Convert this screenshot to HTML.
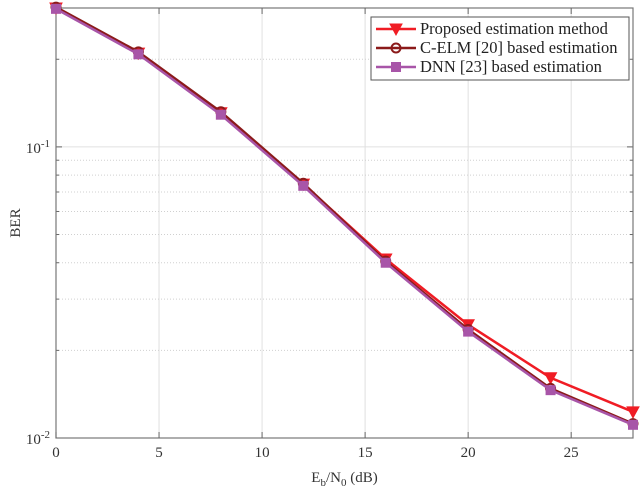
<!DOCTYPE html>
<html><head><meta charset="utf-8"><style>
body{margin:0;background:#fff;}
svg{display:block;font-family:"Liberation Serif",serif;}
</style></head><body>
<svg id="chart" width="640" height="489" viewBox="0 0 640 489">
<g id="grid"></g><g id="axes"></g><g id="series"></g><g id="legend"></g>
</svg>
<script>
const xValues=[0,4,8,12,16,20,24,28];
const proposed=[0.300,0.210,0.131,0.0745,0.0412,0.0245,0.0161,0.0123];
const celm=[0.302,0.212,0.132,0.0750,0.0405,0.0236,0.0148,0.0112];
const dnn=[0.298,0.208,0.129,0.0735,0.0400,0.0232,0.0146,0.0111];
const xTicks=[0,5,10,15,20,25];
const seriesNames=["Proposed estimation method","C-ELM [20] based estimation","DNN [23] based estimation"];
const L=56,R=633,T=8,B=438,xmin=0,xmax=28,ymin=0.01,ymax=0.3;
const NS="http://www.w3.org/2000/svg";
function X(v){return L+(v-xmin)/(xmax-xmin)*(R-L);}
function Y(v){return B-(Math.log10(v)-Math.log10(ymin))/(Math.log10(ymax)-Math.log10(ymin))*(B-T);}
function mk(tag,attrs,parent,text){const e=document.createElementNS(NS,tag);for(const k in attrs)e.setAttribute(k,attrs[k]);if(text!==undefined)e.textContent=text;parent.appendChild(e);return e;}
const grid=document.getElementById('grid'),axes=document.getElementById('axes'),ser=document.getElementById('series'),leg=document.getElementById('legend');
xTicks.forEach(t=>{if(t>0){const g=mk('line',{x1:X(t),x2:X(t),y1:T,y2:B,stroke:'#e0e0e0','stroke-width':1},grid);}});
for(let d=-2;d<=-1;d++){for(let m=1;m<=9;m++){const v=m*Math.pow(10,d);if(v<ymin||v>ymax)continue;const y=Y(v);
 const g=mk('line',{x1:L,x2:R,y1:y,y2:y,stroke:m===1?'#e0e0e0':'#d0d0d0','stroke-width':1,'stroke-dasharray':m===1?'':'1,2'},grid);
 const tl=mk('line',{x1:L,x2:L+(m===1?6:3),y1:y,y2:y,stroke:'#666'},axes);
 const tr=mk('line',{x1:R,x2:R-(m===1?6:3),y1:y,y2:y,stroke:'#666'},axes);}}
const box=mk('rect',{x:L,y:T,width:R-L,height:B-T,fill:'none',stroke:'#777','stroke-width':1.2},axes);

xTicks.forEach(t=>{mk('line',{x1:X(t),x2:X(t),y1:B,y2:B-6,stroke:'#666'},axes);mk('line',{x1:X(t),x2:X(t),y1:T,y2:T+6,stroke:'#666'},axes);
 const lb=mk('text',{x:X(t),y:B+19,'text-anchor':'middle','font-size':15,fill:'#333'},axes,String(t));});
[[-1],[-2]].forEach(([e])=>{const t=mk('text',{x:L-6,y:Y(Math.pow(10,e))+6,'text-anchor':'end','font-size':15,fill:'#333'},axes);
 
 mk('tspan',{},t,'10');mk('tspan',{dy:-6,'font-size':11},t,String(e));});
const xt=mk('text',{x:(L+R)/2,y:482,'text-anchor':'middle','font-size':15,fill:'#333'},axes);

mk('tspan',{},xt,'E');mk('tspan',{dy:4,'font-size':11},xt,'b');mk('tspan',{dy:-4},xt,'/N');mk('tspan',{dy:4,'font-size':11},xt,'0');mk('tspan',{dy:-4},xt,' (dB)');
const yt=mk('text',{x:0,y:0,'text-anchor':'middle','font-size':15,fill:'#333',transform:`translate(20,${(T+B)/2}) rotate(-90)`},axes,'BER');

function marker(type,x,y,color,parent){
 if(type==='tri'){return mk('polygon',{points:`${x-6},${y-5} ${x+6},${y-5} ${x},${y+6}`,fill:color,stroke:color},parent);}
 if(type==='circ'){return mk('circle',{cx:x,cy:y,r:4.5,fill:'none',stroke:color,'stroke-width':2},parent);}
 return mk('rect',{x:x-4.5,y:y-4.5,width:9,height:9,fill:color,stroke:color},parent);}
const defs=[[proposed,'#f01c24','tri','series-proposed'],[celm,'#8b1a1a','circ','series-celm'],[dnn,'#a855a8','sq','series-dnn']];
defs.forEach(([vals,color,mt,name])=>{const g=mk('g',{},ser);
 const pl=mk('polyline',{points:vals.map((v,i)=>X(xValues[i])+','+Y(v)).join(' '),fill:'none',stroke:color,'stroke-width':2.5},g);
 
 vals.forEach((v,i)=>{const m=marker(mt,X(xValues[i]),Y(v),color,g);});});
const lb=mk('rect',{x:371,y:17,width:258,height:63,fill:'#fff',stroke:'#555','stroke-width':1},leg);

defs.forEach(([vals,color,mt,name],i)=>{const y=29+i*19;const g=mk('g',{},leg);
 mk('line',{x1:376,x2:416,y1:y,y2:y,stroke:color,'stroke-width':2.5},g);marker(mt,396,y,color,g);
 mk('text',{x:420,y:y+5,'font-size':16.5,fill:'#222'},g,seriesNames[i]);});
</script>
</body></html>
